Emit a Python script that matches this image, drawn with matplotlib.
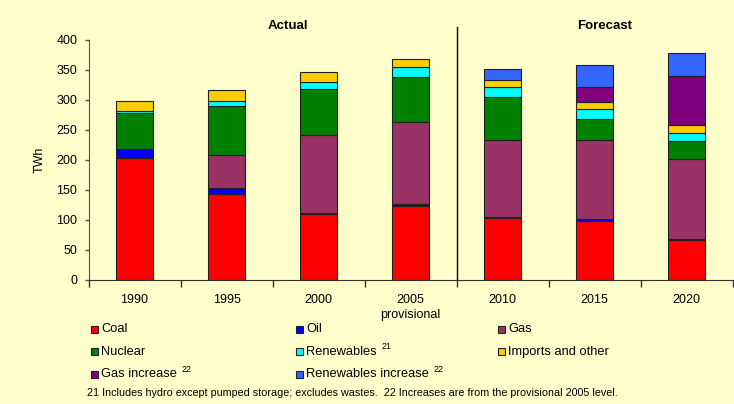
import numpy as np
import matplotlib.pyplot as plt
from matplotlib.patches import Rectangle

# DATA (TWh)

years = ["1990", "1995", "2000", "2005\nprovisional", "2010", "2015", "2020"]

coal = [203, 143, 110, 124, 103, 99, 67]
oil = [15, 11, 2, 2, 2, 2, 2]
gas = [0, 55, 130, 137, 128, 133, 133]
nuclear = [60, 81, 77, 75, 72, 34, 29]
renewables = [4, 8, 11, 17, 17, 17, 14]
imports_other = [16, 19, 17, 14, 12, 12, 13]
gas_increase = [0, 0, 0, 0, 0, 25, 82]
renewables_increase = [0, 0, 0, 0, 18, 37, 38]

series_names = ["Coal", "Oil", "Gas", "Nuclear", "Renewables", "Imports and other",
                "Gas increase", "Renewables increase"]
series_colors = ["#FF0000", "#0000FF", "#993366", "#008000", "#00FFFF", "#FFCC00",
                 "#800080", "#3366FF"]
series_values = [coal, oil, gas, nuclear, renewables, imports_other,
                 gas_increase, renewables_increase]

# FIGURE

bg = "#FFFFCC"
plt.rcParams["font.family"] = ["Liberation Sans", "DejaVu Sans"]

fig = plt.figure(figsize=(7.34, 4.04), dpi=100)
fig.patch.set_facecolor(bg)

ax = fig.add_axes([88.5 / 734, 1 - 280 / 404, 644 / 734, 240 / 404])
ax.set_facecolor(bg)

x = np.arange(len(years))
bottom = np.zeros(len(years))
for vals, color in zip(series_values, series_colors):
    vals = np.array(vals, dtype=float)
    for i in range(len(years)):
        if vals[i] > 0:
            ax.bar(x[i], vals[i], bottom=bottom[i], width=0.41, color=color,
                   edgecolor="#202020", linewidth=0.8)
    bottom += vals

ax.set_xlim(-0.5, 6.5)
ax.set_ylim(0, 400)
ax.set_yticks(range(0, 401, 50))
ax.set_ylabel("TWh", fontsize=9, labelpad=8)

# category boundaries as ticks, year labels in between
ax.set_xticks(np.arange(-0.5, 7, 1))
ax.set_xticklabels([])
ax.set_xticks(x, minor=True)
ax.set_xticklabels(years, minor=True, fontsize=9, linespacing=1.35)
ax.tick_params(axis="x", which="major", length=5, width=1, color="#303030")
ax.tick_params(axis="x", which="minor", length=0, pad=10)
ax.tick_params(axis="y", length=3, width=1, color="#505050", labelsize=9, pad=5)

for side in ["top", "right"]:
    ax.spines[side].set_visible(False)
ax.spines["left"].set_color("#505050")
ax.spines["bottom"].set_color("#303030")

# divider between actual and forecast
ax.plot([3.5, 3.5], [0, 422], color="black", linewidth=1, clip_on=False)

# OVERLAY FOR TITLES, LEGEND AND FOOTNOTE (pixel coordinates)

ov = fig.add_axes([0, 0, 1, 1])
ov.set_xlim(0, 734)
ov.set_ylim(404, 0)
ov.axis("off")
ov.patch.set_alpha(0)

ov.text(288, 26, "Actual", fontsize=9.5, fontweight="bold", ha="center", va="center")
ov.text(605, 26, "Forecast", fontsize=9.5, fontweight="bold", ha="center", va="center")

legend_rows = [329, 351.7, 374.3]
legend_cols = [91, 296, 498]
supers = {"Renewables": "21", "Gas increase": "22", "Renewables increase": "22"}

renderer = fig.canvas.get_renderer()
for k, (name, color) in enumerate(zip(series_names, series_colors)):
    row, col = divmod(k, 3)
    mx = legend_cols[col]
    my = legend_rows[row]
    ov.add_patch(Rectangle((mx, my - 3.5), 7, 7, facecolor=color,
                           edgecolor="#202020", linewidth=0.8))
    t = ov.text(mx + 10, my, name, fontsize=9.3, ha="left", va="center")
    if name in supers:
        # superscript note number just after the label
        right_px = t.get_window_extent(renderer).x1
        ov.text(right_px + 5, my - 5, supers[name], fontsize=6.5,
                ha="left", va="center")

ov.text(87, 393, "21 Includes hydro except pumped storage; excludes wastes.  "
        "22 Increases are from the provisional 2005 level.",
        fontsize=7.75, ha="left", va="center")

fig.savefig("out.png", dpi=100, facecolor=bg)
